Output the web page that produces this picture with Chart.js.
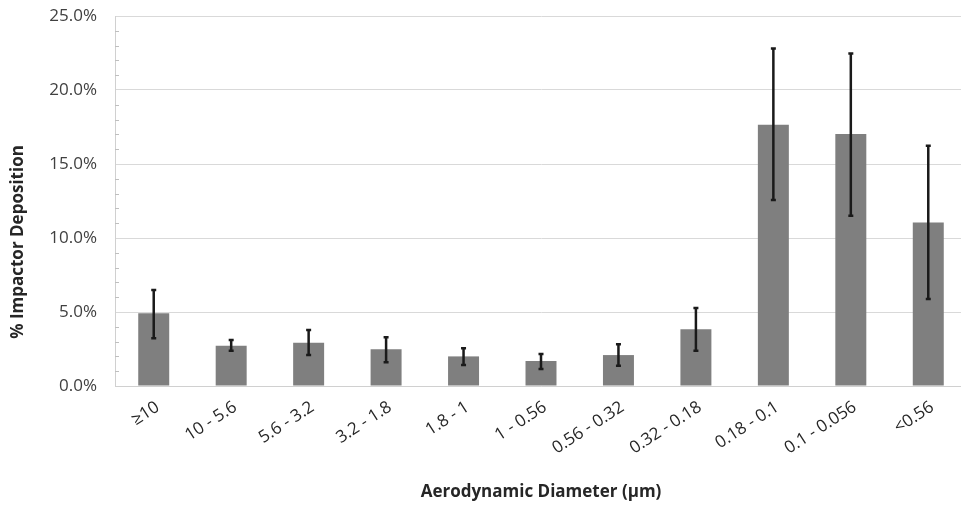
<!DOCTYPE html>
<html>
<head>
<meta charset="utf-8">
<script src="https://cdn.jsdelivr.net/npm/chart.js@4/dist/chart.umd.min.js"></script>
<style>
	html, body { margin:0; padding:0; background:#fff; overflow:hidden; }
	#wrap { width:975px; height:505px; }
</style>
</head>
<body>
<div id="wrap"><canvas id="c" width="975" height="505"></canvas></div>
<script>
// Size bins and deposition (%), with error bar ends
var sizes    = [ '≥10', '10 - 5.6', '5.6 - 3.2', '3.2 - 1.8', '1.8 - 1', '1 - 0.56', '0.56 - 0.32', '0.32 - 0.18', '0.18 - 0.1', '0.1 - 0.056', '<0.56' ];
var deposit  = [ 4.91, 2.72, 2.93, 2.48, 2.0, 1.69, 2.09, 3.83, 17.66, 17.03, 11.04 ];
var errHigh  = [ 6.49, 3.11, 3.78, 3.29, 2.55, 2.16, 2.82, 5.27, 22.8, 22.47, 16.24 ];
var errLow   = [ 3.22, 2.39, 2.09, 1.6, 1.42, 1.15, 1.37, 2.39, 12.57, 11.51, 5.88 ];
var yTicks   = [ 0, 5, 10, 15, 20, 25 ];

var FONT = '"Open Sans", Lato, sans-serif';

// error bars + minor ticks on the value axis
var extras = {
	id : 'extras',
	afterDatasetsDraw : function( chart ){
		var ctx = chart.ctx,
			x = chart.scales.x,
			y = chart.scales.y;

		ctx.save();
		ctx.strokeStyle = '#1a1a1a';
		ctx.lineWidth = 2.5;
		for( var i = 0; i < deposit.length; i++ ){
			var px = x.getPixelForValue( i ),
				hi = y.getPixelForValue( errHigh[ i ] ),
				lo = y.getPixelForValue( errLow[ i ] );
			ctx.beginPath();
			ctx.moveTo( px, hi ); ctx.lineTo( px, lo );
			ctx.moveTo( px - 2.5, hi ); ctx.lineTo( px + 2.5, hi );
			ctx.moveTo( px - 2.5, lo ); ctx.lineTo( px + 2.5, lo );
			ctx.stroke();
		}

		ctx.strokeStyle = '#bfbfbf';
		ctx.lineWidth = 1;
		for( var v = 1; v < 25; v++ ){
			if( v % 5 == 0 ) continue;
			var py = Math.round( y.getPixelForValue( v ) ) + 0.5;
			ctx.beginPath();
			ctx.moveTo( chart.chartArea.left, py ); ctx.lineTo( chart.chartArea.left + 4, py );
			ctx.stroke();
		}

		// value axis title
		ctx.translate( 18, 242 );
		ctx.rotate( -Math.PI / 2 );
		ctx.fillStyle = '#262626';
		ctx.font = 'bold 17px ' + FONT;
		ctx.textAlign = 'center';
		ctx.textBaseline = 'middle';
		ctx.fillText( '% Impactor Deposition', 0, 0 );
		ctx.restore();
	}
};

new Chart( document.getElementById( 'c' ).getContext( '2d' ), {
	type : 'bar',
	data : {
		labels : sizes,
		datasets : [ {
			data : deposit,
			backgroundColor : '#7f7f7f',
			barPercentage : 0.4,
			categoryPercentage : 1
		} ]
	},
	options : {
		responsive : false,
		animation : false,
		events : [],
		layout : { padding : { top : 16, right : 8, left : 0, bottom : 0 } },
		plugins : { legend : { display : false }, tooltip : { enabled : false } },
		scales : {
			x : {
				grid : { display : false },
				border : { color : '#d0d0d0', width : 1 },
				ticks : {
					color : '#262626',
					font : { family : FONT, size : 17 },
					minRotation : 33,
					maxRotation : 33,
					padding : 3,
					labelOffset : 4,
					autoSkip : false
				},
				title : {
					display : true,
					text : 'Aerodynamic Diameter (µm)',
					color : '#262626',
					font : { family : FONT, size : 17, weight : 'bold' },
					padding : { top : 0, bottom : 3 }
				},
				afterFit : function( s ){ s.height = 119; s.paddingLeft = 0; s.paddingRight = 0; }
			},
			y : {
				min : 0,
				max : 25,
				afterBuildTicks : function( s ){ s.ticks = yTicks.map( function( v ){ return { value : v }; } ); },
				grid : { color : '#d9d9d9', lineWidth : 1, drawTicks : false },
				border : { color : '#d0d0d0', width : 1 },
				ticks : {
					color : '#404040',
					font : { family : FONT, size : 17 },
					padding : 18,
					callback : function( v ){ return v.toFixed( 1 ) + '%'; }
				},
				afterFit : function( s ){ s.width = 115; s.paddingTop = 0; s.paddingBottom = 0; }
			}
		}
	},
	plugins : [ extras ]
} );
</script>
</body>
</html>
